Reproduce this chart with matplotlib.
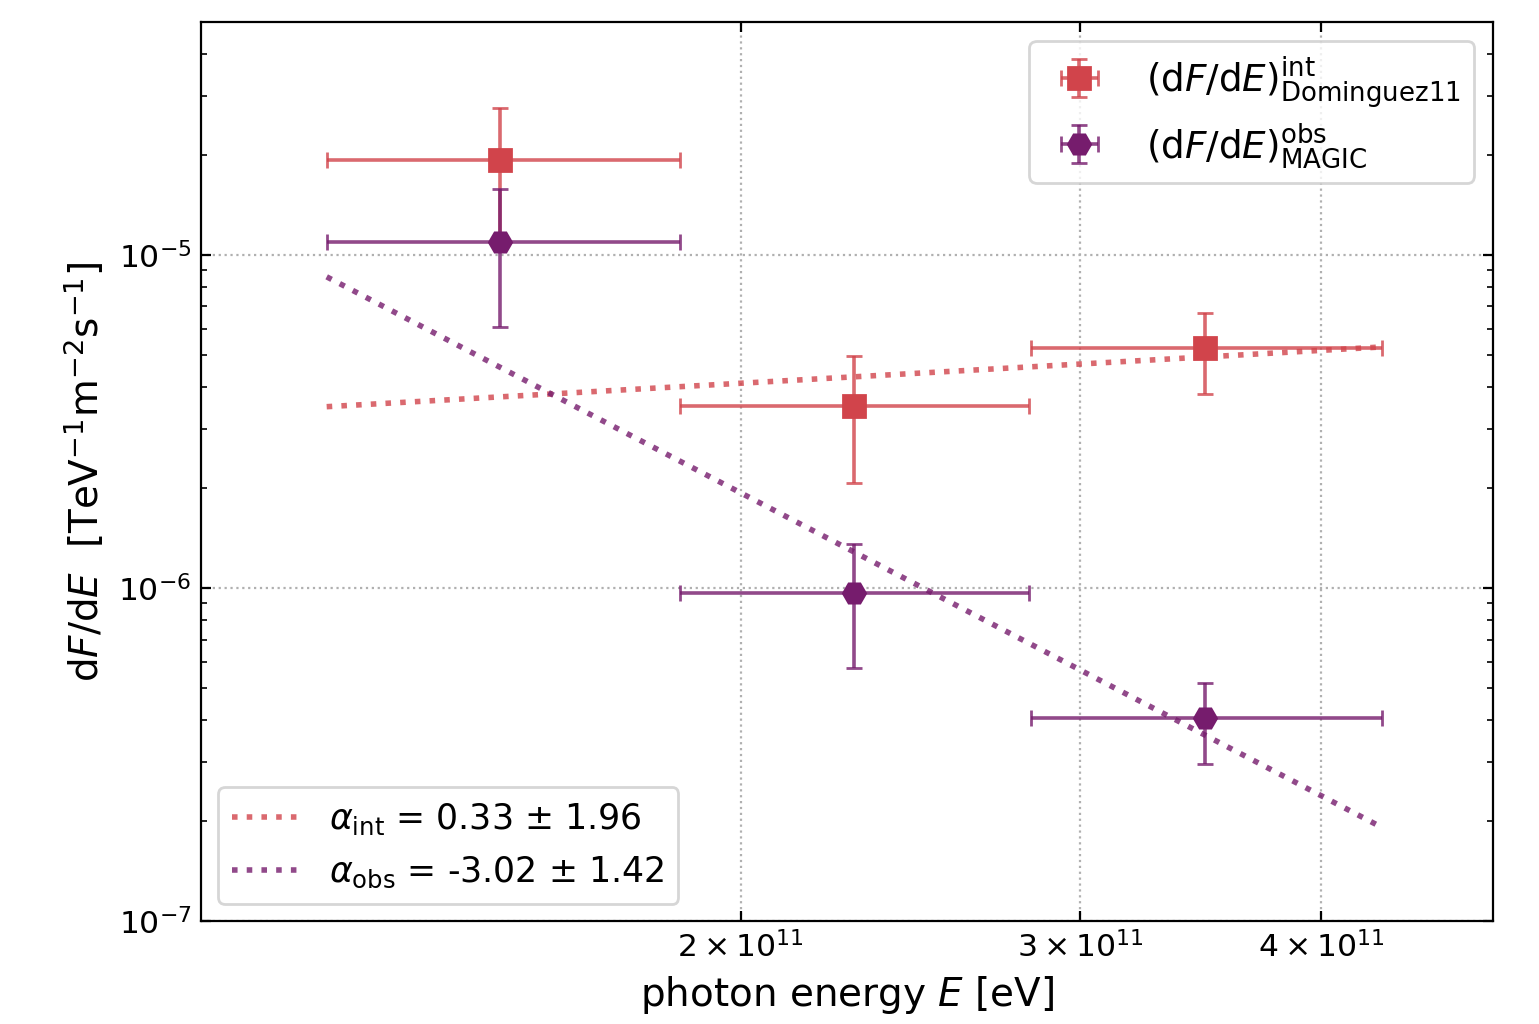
import numpy as np
import matplotlib.pyplot as plt

# photon energy bins [eV]
e_center = [1.50e11, 2.29e11, 3.48e11]
e_low = [1.22e11, 1.86e11, 2.83e11]
e_high = [1.86e11, 2.82e11, 4.30e11]

# intrinsic flux (Dominguez11)
flux_int = [1.93e-5, 3.52e-6, 5.26e-6]
flux_int_err = [0.83e-5, 1.45e-6, 1.43e-6]

# observed flux (MAGIC)
flux_obs = [1.094e-5, 9.66e-7, 4.07e-7]
flux_obs_err = [4.85e-6, 3.9e-7, 1.1e-7]

# power law fits, endpoints
fit_x = [1.22e11, 4.30e11]
fit_int = [3.50e-6, 5.29e-6]
fit_obs = [8.59e-6, 1.91e-7]

c_int = '#d1444b'
c_obs = '#761c6d'

e_center = np.array(e_center)
xerr = [e_center - np.array(e_low), np.array(e_high) - e_center]

fig, ax = plt.subplots(figsize=(7.695, 5.12), dpi=200)
fig.subplots_adjust(left=0.1306, right=0.9701, top=0.9785, bottom=0.1006)

h1 = ax.errorbar(e_center, flux_int, xerr=xerr, yerr=flux_int_err, fmt='s', color=c_int,
                 ms=8, capsize=3, elinewidth=1.3, ecolor=c_int, zorder=3)
for l in list(h1[1]) + list(h1[2]):
    l.set_alpha(0.8)
h2 = ax.errorbar(e_center, flux_obs, xerr=xerr, yerr=flux_obs_err, fmt='H', color=c_obs,
                 ms=8, capsize=3, elinewidth=1.3, ecolor=c_obs, zorder=3)
for l in list(h2[1]) + list(h2[2]):
    l.set_alpha(0.8)

l1, = ax.plot(fit_x, fit_int, ':', color=c_int, lw=2, alpha=0.8)
l2, = ax.plot(fit_x, fit_obs, ':', color=c_obs, lw=2, alpha=0.8)

ax.set_xscale('log')
ax.set_yscale('log')
ax.set_xlim(1.05e11, 4.91e11)
ax.set_ylim(1e-7, 5.0e-5)

ax.set_xticks([2e11, 3e11, 4e11])
ax.set_xticklabels([r'$2\times10^{11}$', r'$3\times10^{11}$', r'$4\times10^{11}$'])
ax.xaxis.set_minor_locator(plt.NullLocator())
ax.tick_params(which='both', direction='in', top=True, right=True, labelsize=11.3)
ax.grid(True, which='major', ls=':', color='#b0b0b0', lw=0.8)

ax.set_xlabel(r'photon energy $E$ [eV]', fontsize=14)
ax.set_ylabel(r'd$F$/d$E$  [TeV$^{-1}$m$^{-2}$s$^{-1}$]', fontsize=14)

leg1 = ax.legend([h1, h2],
                 [r'$(\mathrm{d}F/\mathrm{d}E)^{\mathrm{int}}_{\mathrm{Dominguez11}}$',
                  r'$(\mathrm{d}F/\mathrm{d}E)^{\mathrm{obs}}_{\mathrm{MAGIC}}$'],
                 loc='upper right', fontsize=13.4, labelspacing=0.3, borderpad=0.35)
ax.add_artist(leg1)
ax.legend([l1, l2], [r'$\alpha_{\mathrm{int}}$ = 0.33 ± 1.96', r'$\alpha_{\mathrm{obs}}$ = -3.02 ± 1.42'],
          loc='lower left', fontsize=12.5)

fig.savefig('out.png')
